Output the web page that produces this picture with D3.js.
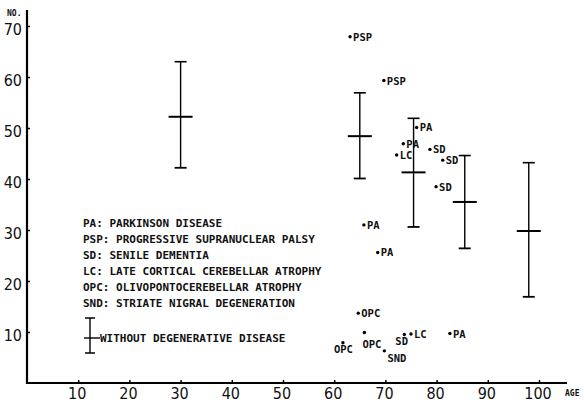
<!DOCTYPE html>
<html>
<head>
<meta charset="utf-8">
<script src="https://cdn.jsdelivr.net/npm/d3@7"></script>
<style>
  html, body { margin: 0; padding: 0; background: #fff; }
  svg { display: block; }
  .tick-label { font-family: "Liberation Sans Narrow", "Arial Narrow", "DejaVu Sans Condensed", sans-serif; font-size: 16px; fill: #111; }
  .mono { font-family: "DejaVu Sans Mono", "Liberation Mono", monospace; font-weight: bold; fill: #111; }
</style>
</head>
<body>
<svg id="chart" width="584" height="403"></svg>
<script>
// ---------------- data ----------------
const xTicks = [10, 20, 30, 40, 50, 60, 70, 80, 90, 100];
const yTicks = [10, 20, 30, 40, 50, 60, 70];

// individual cases with degenerative disease
const caseAges   = [63.1, 69.7, 76.1, 73.5, 72.2, 78.7, 81.2, 79.9, 65.8, 68.5, 64.7, 65.9, 61.7, 69.8, 73.7, 75.0, 82.6];
const caseValues = [67.9, 59.3, 50.1, 46.9, 44.7, 45.8, 43.7, 38.5, 31.0, 25.6, 13.7, 9.9, 7.9, 6.3, 9.5, 9.6, 9.7];
const caseLabels = ["PSP","PSP","PA","PA","LC","SD","SD","SD","PA","PA","OPC","OPC","OPC","SND","SD","LC","PA"];

// controls without degenerative disease (mean and range)
const ctrlAges  = [30, 65, 75.5, 85.5, 98];
const ctrlMeans = [52.2, 48.4, 41.3, 35.5, 29.8];
const ctrlUpper = [63.0, 56.9, 51.9, 44.6, 43.2];
const ctrlLower = [42.2, 40.1, 30.6, 26.4, 16.9];

const legendLines = [
  "PA: PARKINSON DISEASE",
  "PSP: PROGRESSIVE SUPRANUCLEAR PALSY",
  "SD: SENILE DEMENTIA",
  "LC: LATE CORTICAL CEREBELLAR ATROPHY",
  "OPC: OLIVOPONTOCEREBELLAR ATROPHY",
  "SND: STRIATE NIGRAL DEGENERATION"
];
const legendBarText = "WITHOUT DEGENERATIVE DISEASE";

// ---------------- drawing ----------------
const svg = d3.select("#chart");
const x = d3.scaleLinear().domain([0, 105]).range([27, 27 + 105 * 5.12]);
const y = d3.scaleLinear().domain([0, 70]).range([383, 26]);

// axes lines
svg.append("line").attr("x1", 27).attr("x2", 27).attr("y1", 10).attr("y2", 384)
  .attr("stroke", "#000").attr("stroke-width", 2.2);
svg.append("line").attr("x1", 26).attr("x2", 567).attr("y1", 383).attr("y2", 383)
  .attr("stroke", "#000").attr("stroke-width", 2);

// y axis ticks + labels
const yAxis = d3.axisRight(y).tickValues(yTicks).tickSize(3).tickFormat("");
const gy = svg.append("g").attr("transform", "translate(27,0)").call(yAxis);
gy.select(".domain").remove();
gy.selectAll("line").attr("stroke", "#000").attr("stroke-width", 1.5);
svg.selectAll(".ylab").data(yTicks).enter().append("text")
  .attr("class", "tick-label")
  .attr("x", 22).attr("y", d => y(d) + 9)
  .attr("text-anchor", "end").text(d => d);

// x axis ticks + labels
const xAxis = d3.axisTop(x).tickValues(xTicks).tickSize(3).tickFormat("");
const gx = svg.append("g").attr("transform", "translate(0,383)").call(xAxis);
gx.select(".domain").remove();
gx.selectAll("line").attr("stroke", "#000").attr("stroke-width", 1.5);
svg.selectAll(".xlab").data(xTicks).enter().append("text")
  .attr("class", "tick-label")
  .attr("x", d => x(d) - 1).attr("y", 398.5)
  .attr("text-anchor", "middle").text(d => d);

// axis titles
svg.append("text").attr("class", "mono").attr("x", 7).attr("y", 16)
  .style("font-size", "8px").text("NO.");
svg.append("text").attr("class", "mono").attr("x", 565).attr("y", 396)
  .style("font-size", "8px").text("AGE");

// control error bars
const ctrl = ctrlAges.map((a, i) => ({ a, m: ctrlMeans[i], hi: ctrlUpper[i], lo: ctrlLower[i] }));
const gb = svg.append("g").attr("stroke", "#000");
gb.selectAll(".v").data(ctrl).enter().append("line")
  .attr("x1", d => x(d.a)).attr("x2", d => x(d.a))
  .attr("y1", d => y(d.hi)).attr("y2", d => y(d.lo)).attr("stroke-width", 1.4);
gb.selectAll(".ct").data(ctrl).enter().append("line")
  .attr("x1", d => x(d.a) - 6).attr("x2", d => x(d.a) + 6)
  .attr("y1", d => y(d.hi)).attr("y2", d => y(d.hi)).attr("stroke-width", 1.6);
gb.selectAll(".cb").data(ctrl).enter().append("line")
  .attr("x1", d => x(d.a) - 6).attr("x2", d => x(d.a) + 6)
  .attr("y1", d => y(d.lo)).attr("y2", d => y(d.lo)).attr("stroke-width", 1.8);
gb.selectAll(".mn").data(ctrl).enter().append("line")
  .attr("x1", d => x(d.a) - 12).attr("x2", d => x(d.a) + 12)
  .attr("y1", d => y(d.m)).attr("y2", d => y(d.m)).attr("stroke-width", 2);

// case points
const cases = caseAges.map((a, i) => ({ a, v: caseValues[i], lab: caseLabels[i], i }));
// label placement per case index (layout only)
const placeBelow = { 11: [-2, 15], 12: [-9, 10], 13: [3, 11], 14: [-9, 10] };
const gp = svg.append("g");
gp.selectAll("circle").data(cases).enter().append("circle")
  .attr("cx", d => x(d.a)).attr("cy", d => y(d.v)).attr("r", 1.7).attr("fill", "#000");
gp.selectAll("text").data(cases).enter().append("text")
  .attr("class", "mono").style("font-size", "10.5px")
  .attr("x", d => x(d.a) + (placeBelow[d.i] ? placeBelow[d.i][0] : 3))
  .attr("y", d => y(d.v) + (placeBelow[d.i] ? placeBelow[d.i][1] : 4))
  .text(d => d.lab);

// legend
const lg = svg.append("g");
lg.selectAll("text").data(legendLines).enter().append("text")
  .attr("class", "mono").style("font-size", "11px")
  .attr("x", 83).attr("y", (d, i) => 227 + i * 16)
  .text(d => d);
// legend error-bar symbol
const lb = lg.append("g").attr("stroke", "#000");
lb.append("line").attr("x1", 90).attr("x2", 90).attr("y1", 318).attr("y2", 353).attr("stroke-width", 1.4);
lb.append("line").attr("x1", 85).attr("x2", 95).attr("y1", 318).attr("y2", 318).attr("stroke-width", 1.5);
lb.append("line").attr("x1", 85).attr("x2", 95).attr("y1", 353).attr("y2", 353).attr("stroke-width", 1.5);
lb.append("line").attr("x1", 84).attr("x2", 100).attr("y1", 338).attr("y2", 338).attr("stroke-width", 1.4);
lg.append("text").attr("class", "mono").style("font-size", "11px")
  .attr("x", 100).attr("y", 342).text(legendBarText);
</script>
</body>
</html>
